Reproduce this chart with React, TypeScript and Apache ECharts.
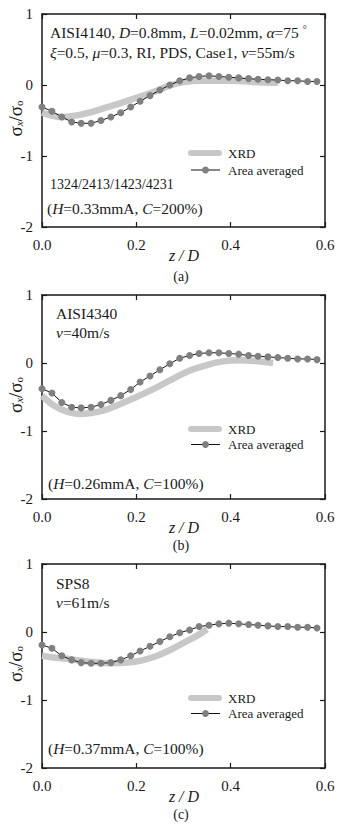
import React, { useEffect, useRef } from "react";
import * as echarts from "echarts";

// Depth positions z/D shared by the area-averaged profiles
const Z_AVG = [
  0.0, 0.021, 0.042, 0.063, 0.083, 0.104, 0.125, 0.146, 0.167, 0.188, 0.208, 0.229, 0.25, 0.271, 0.292,
  0.313, 0.333, 0.354, 0.375, 0.396, 0.417, 0.438, 0.458, 0.479, 0.5, 0.521, 0.542, 0.563, 0.583,
];

// Area averaged sigma_x / sigma_o
const AVG_A = [
  -0.31, -0.37, -0.45, -0.52, -0.54, -0.54, -0.5, -0.45, -0.39, -0.31, -0.23, -0.15, -0.07, 0.0, 0.06,
  0.1, 0.12, 0.13, 0.12, 0.11, 0.1, 0.09, 0.08, 0.075, 0.07, 0.06, 0.06, 0.05, 0.05,
];
const AVG_B = [
  -0.38, -0.44, -0.58, -0.65, -0.66, -0.65, -0.61, -0.55, -0.48, -0.39, -0.28, -0.19, -0.1, -0.01, 0.07,
  0.11, 0.14, 0.15, 0.15, 0.14, 0.13, 0.11, 0.1, 0.09, 0.08, 0.07, 0.06, 0.06, 0.05,
];
const AVG_C = [
  -0.19, -0.24, -0.35, -0.41, -0.45, -0.46, -0.46, -0.45, -0.41, -0.35, -0.28, -0.21, -0.14, -0.07, -0.01,
  0.03, 0.08, 0.1, 0.12, 0.13, 0.12, 0.11, 0.1, 0.09, 0.08, 0.08, 0.07, 0.07, 0.06,
];

// XRD measurements
const Z_XRD_A = [0, 0.02, 0.04, 0.06, 0.08, 0.1, 0.13, 0.16, 0.2, 0.24, 0.27, 0.3, 0.34, 0.38, 0.42, 0.46, 0.5];
const XRD_A = [-0.39, -0.43, -0.45, -0.44, -0.42, -0.39, -0.33, -0.27, -0.18, -0.09, -0.01, 0.04, 0.06, 0.06, 0.055, 0.04, 0.03];

const Z_XRD_B = [0, 0.02, 0.04, 0.06, 0.08, 0.1, 0.13, 0.16, 0.2, 0.24, 0.27, 0.31, 0.35, 0.38, 0.42, 0.45, 0.49];
const XRD_B = [-0.48, -0.6, -0.68, -0.73, -0.75, -0.74, -0.7, -0.62, -0.5, -0.37, -0.26, -0.12, -0.03, 0.02, 0.04, 0.03, 0.0];

const Z_XRD_C = [0, 0.03, 0.06, 0.09, 0.12, 0.15, 0.18, 0.21, 0.24, 0.27, 0.3, 0.33, 0.35];
const XRD_C = [-0.35, -0.38, -0.4, -0.43, -0.45, -0.46, -0.45, -0.42, -0.36, -0.27, -0.16, -0.05, 0.04];

const X_TICKS = ["0.0", "0.2", "0.4", "0.6"];
const Y_TICKS = ["1", "0", "-1", "-2"];
const CAPTIONS = ["(a)", "(b)", "(c)"];
const LEGEND_NAMES = ["XRD", "Area averaged"];

const FONT = "'Liberation Serif', 'Times New Roman', serif";
const INK = "#1a1a1a";
const XRD_COLOR = "#c8c8c8";
const DOT_COLOR = "#808080";

const PLOT_LEFT = 42;
const PLOT_RIGHT = 13;

const GRIDS = [
  { top: 14, height: 213 },
  { top: 295, height: 204 },
  { top: 564, height: 204 },
];

const pair = (xs: number[], ys: number[]) => xs.map((x, i) => [x, ys[i]]);

const RICH = {
  i: { fontFamily: FONT, fontStyle: "italic", fontSize: 15.5, fill: INK },
  n: { fontFamily: FONT, fontSize: 15.5, fill: INK },
  sup: { fontFamily: FONT, fontSize: 10, fill: INK, verticalAlign: "top" },
};

const frameLine = () => ({ show: true, onZero: false, lineStyle: { color: INK, width: 1.5 } });
const innerTick = () => ({ show: true, inside: true, length: 5, lineStyle: { color: INK, width: 1.2 } });

// Plot panels: grids, framed axes and the two profile series
function buildPlotOption() {
  const avg = [AVG_A, AVG_B, AVG_C];
  const xrd = [pair(Z_XRD_A, XRD_A), pair(Z_XRD_B, XRD_B), pair(Z_XRD_C, XRD_C)];
  const xAxis: any[] = [];
  const yAxis: any[] = [];
  const series: any[] = [];

  GRIDS.forEach((_, k) => {
    xAxis.push({
      gridIndex: k,
      type: "value",
      position: "bottom",
      min: 0,
      max: 0.6,
      interval: 0.2,
      axisLine: frameLine(),
      axisTick: innerTick(),
      splitLine: { show: false },
      axisLabel: {
        margin: 10,
        fontFamily: FONT,
        fontSize: 15,
        color: INK,
        formatter: (v: number) => X_TICKS[Math.round(v / 0.2)],
      },
    });
    xAxis.push({
      gridIndex: k,
      type: "value",
      position: "top",
      min: 0,
      max: 0.6,
      interval: 0.2,
      axisLine: frameLine(),
      axisTick: innerTick(),
      splitLine: { show: false },
      axisLabel: { show: false },
    });
    yAxis.push({
      gridIndex: k,
      type: "value",
      position: "left",
      min: -2,
      max: 1,
      interval: 1,
      axisLine: frameLine(),
      axisTick: innerTick(),
      splitLine: { show: false },
      axisLabel: {
        margin: 9,
        fontFamily: FONT,
        fontSize: 15,
        color: INK,
        formatter: (v: number) => Y_TICKS[Math.round(1 - v)],
      },
    });
    yAxis.push({
      gridIndex: k,
      type: "value",
      position: "right",
      min: -2,
      max: 1,
      interval: 1,
      axisLine: frameLine(),
      axisTick: innerTick(),
      splitLine: { show: false },
      axisLabel: { show: false },
    });

    series.push({
      name: LEGEND_NAMES[0],
      type: "line",
      xAxisIndex: 2 * k,
      yAxisIndex: 2 * k,
      data: xrd[k],
      smooth: 0.4,
      showSymbol: false,
      lineStyle: { color: XRD_COLOR, width: 6.5 },
    });
    series.push({
      name: LEGEND_NAMES[1],
      type: "line",
      xAxisIndex: 2 * k,
      yAxisIndex: 2 * k,
      data: pair(Z_AVG, avg[k]),
      symbol: "circle",
      symbolSize: 7,
      itemStyle: { color: DOT_COLOR },
      lineStyle: { color: "#111", width: 1 },
    });
  });

  return {
    animation: false,
    grid: GRIDS.map((g) => ({ left: PLOT_LEFT, right: PLOT_RIGHT, top: g.top, height: g.height })),
    xAxis,
    yAxis,
    series,
  };
}

// Titles, captions, legends and annotations
function buildTextOption() {
  const graphic: any[] = [];

  GRIDS.forEach((g, k) => {
    const top = g.top;
    const bottom = g.top + g.height;

    graphic.push({
      type: "text",
      x: 15,
      y: top + g.height / 2 - 2,
      rotation: Math.PI / 2,
      style: {
        text: "{s|σ}{x|x}{s|/σ}{o|o}",
        align: "center",
        verticalAlign: "middle",
        rich: {
          s: { fontFamily: FONT, fontSize: 19, fill: INK, verticalAlign: "bottom" },
          x: { fontFamily: FONT, fontSize: 11, fontStyle: "italic", fill: INK, verticalAlign: "bottom" },
          o: { fontFamily: FONT, fontSize: 11, fill: INK, verticalAlign: "bottom" },
        },
      },
    });
    graphic.push({
      type: "text",
      x: 184,
      y: bottom + 28,
      style: { text: "z / D", font: `italic 16px ${FONT}`, fill: INK, align: "center", verticalAlign: "middle" },
    });
    graphic.push({
      type: "text",
      x: 181,
      y: bottom + (k === 0 ? 49 : 46),
      style: { text: CAPTIONS[k], font: `14px ${FONT}`, fill: INK, align: "center", verticalAlign: "middle" },
    });

    const ly = k === 0 ? bottom - 74 : bottom - 70;
    const ly2 = ly + (k === 0 ? 17 : 15.5);
    graphic.push({
      type: "rect",
      shape: { x: 188, y: ly - 3, width: 34, height: 6, r: 3 },
      style: { fill: XRD_COLOR },
    });
    graphic.push({
      type: "text",
      x: 228,
      y: ly,
      style: { text: LEGEND_NAMES[0], font: `13px ${FONT}`, fill: INK, verticalAlign: "middle" },
    });
    graphic.push({
      type: "rect",
      shape: { x: 191, y: ly2 - 0.5, width: 29, height: 1 },
      style: { fill: "#111" },
    });
    graphic.push({
      type: "circle",
      shape: { cx: 205.5, cy: ly2, r: 3.5 },
      style: { fill: DOT_COLOR },
    });
    graphic.push({
      type: "text",
      x: 228,
      y: ly2,
      style: { text: LEGEND_NAMES[1], font: `13px ${FONT}`, fill: INK, verticalAlign: "middle" },
    });
  });

  const note = (x: number, y: number, text: string) => ({
    type: "text",
    x,
    y,
    style: { text, rich: RICH, verticalAlign: "middle", fill: INK, font: `15.5px ${FONT}` },
  });
  graphic.push(note(50, 32, "{n|AISI4140, }{i|D}{n|=0.8mm, }{i|L}{n|=0.02mm, }{i|α}{n|=75 }{sup|°}"));
  graphic.push(note(50, 52, "{i|ξ}{n|=0.5, }{i|μ}{n|=0.3, RI, PDS, Case1, }{i|v}{n|=55m/s}"));
  graphic.push({
    type: "text",
    x: 50,
    y: 184,
    style: { text: "1324/2413/1423/4231", font: `14px ${FONT}`, fill: INK, verticalAlign: "middle" },
  });
  graphic.push(note(47, 208, "{n|(}{i|H}{n|=0.33mmA, }{i|C}{n|=200%)}"));
  graphic.push(note(56, 313, "{n|AISI4340}"));
  graphic.push(note(56, 332, "{i|v}{n|=40m/s}"));
  graphic.push(note(48, 483, "{n|(}{i|H}{n|=0.26mmA, }{i|C}{n|=100%)}"));
  graphic.push(note(56, 583, "{n|SPS8}"));
  graphic.push(note(56, 602, "{i|v}{n|=61m/s}"));
  graphic.push(note(48, 748, "{n|(}{i|H}{n|=0.37mmA, }{i|C}{n|=100%)}"));

  return { animation: false, graphic };
}

export default function App() {
  const plotRef = useRef<HTMLDivElement>(null);
  const textRef = useRef<HTMLDivElement>(null);

  useEffect(() => {
    if (!plotRef.current || !textRef.current) return;
    const plot = echarts.init(plotRef.current, null, { renderer: "svg" });
    plot.setOption(buildPlotOption());
    const overlay = echarts.init(textRef.current, null, { renderer: "svg" });
    overlay.setOption(buildTextOption());
    return () => {
      overlay.dispose();
      plot.dispose();
    };
  }, []);

  const box: React.CSSProperties = { position: "absolute", left: 0, top: 0, width: 338, height: 828 };
  return (
    <div style={{ position: "absolute", left: 0, top: 0, width: 338, height: 828 }}>
      <div ref={plotRef} style={box} />
      <div ref={textRef} style={{ ...box, pointerEvents: "none" }} />
    </div>
  );
}
